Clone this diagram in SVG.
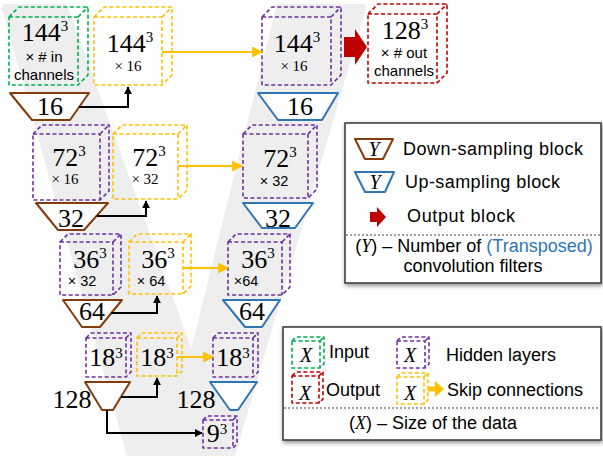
<svg xmlns="http://www.w3.org/2000/svg" width="603" height="461" viewBox="0 0 603 461">
<defs>
<style>
.cube{fill:none;stroke-width:1.6;stroke-dasharray:4 2.5;stroke-linejoin:round}
.g{stroke:#00b050}.y{stroke:#ffc000}.p{stroke:#7030a0}.r{stroke:#c00000}
.down{fill:#fff;stroke:#843c0c;stroke-width:2;stroke-linejoin:round}
.up{fill:#fff;stroke:#2e75b6;stroke-width:2;stroke-linejoin:round}
.num{font-family:"Liberation Serif",serif;font-size:26px;fill:#000;text-anchor:middle}
.sup{font-size:15px}
.mul{font-family:"Liberation Serif",serif;font-size:15px;fill:#000;text-anchor:middle}
.muls{font-family:"Liberation Sans",sans-serif;font-size:14.5px;fill:#000;text-anchor:middle}
.lbl{font-family:"Liberation Sans",sans-serif;font-size:15px;fill:#000;text-anchor:middle}
.leg{font-family:"Liberation Sans",sans-serif;font-size:18px;fill:#000}
.it{font-family:"Liberation Serif",serif;font-style:italic}
.blk{fill:none;stroke:#000;stroke-width:2}
.yel{fill:none;stroke:#ffc000;stroke-width:2}
.box{fill:#fff;stroke:#404040;stroke-width:1.6}
.sep{stroke:#404040;stroke-width:1;stroke-dasharray:2 2}
</style>
<marker id="ab" viewBox="0 0 10 10" refX="9" refY="5" markerWidth="8" markerHeight="8" markerUnits="userSpaceOnUse" orient="auto"><path d="M0,0 L10,5 L0,10 Z" fill="#000"/></marker>
<marker id="ay" viewBox="0 0 10 10" refX="9" refY="5" markerWidth="11" markerHeight="11" markerUnits="userSpaceOnUse" orient="auto"><path d="M0,0 L10,5 L0,10 Z" fill="#ffc000"/></marker>
<filter id="sh" x="-10%" y="-15%" width="125%" height="140%"><feDropShadow dx="1" dy="2" stdDeviation="2" flood-color="#000" flood-opacity="0.45"/></filter>
</defs>

<g id="background-v">
<polygon points="6,8 64,8 192,362 280,8 362,8 232,452 130,452" fill="#efeeee" stroke="#efeeee" stroke-width="8" stroke-linejoin="round"/>
</g>

<g id="input-144">
<path class="cube g" d="M9,17 L19,7 L88,7 L88,75 L78,85 L9,85 Z M9,17 H78 V85 M78,17 L88,7"/>
<text class="num" x="45" y="41">144<tspan class="sup" dy="-10">3</tspan></text>
<text class="lbl" x="44" y="62">× # in</text>
<text class="lbl" x="44" y="80">channels</text>
</g>

<g id="skip-144">
<path class="cube y" d="M94,17 L104,7 L172,7 L172,75 L162,85 L94,85 Z M94,17 H162 V85 M162,17 L172,7"/>
<text class="num" x="130" y="52">144<tspan class="sup" dy="-10">3</tspan></text>
<text class="mul" x="128" y="71">× 16</text>
</g>

<g id="up-144">
<path class="cube p" d="M262,17 L272,7 L341,7 L341,75 L331,85 L262,85 Z M262,17 H331 V85 M331,17 L341,7"/>
<text class="num" x="297" y="52">144<tspan class="sup" dy="-10">3</tspan></text>
<text class="mul" x="294" y="71">× 16</text>
</g>

<g id="output-128">
<path class="cube r" d="M368,14 L378,4 L447,4 L447,73 L437,83 L368,83 Z M368,14 H437 V83 M437,14 L447,4"/>
<text class="num" x="405" y="39">128<tspan class="sup" dy="-10">3</tspan></text>
<text class="lbl" x="404" y="58">× # out</text>
<text class="lbl" x="404" y="76">channels</text>
</g>

<g id="output-block">
<polygon points="344,37 355,37 355,29 367,47 355,65 355,57 344,57" fill="#c00000"/>
</g>

<g id="down-16">
<polygon class="down" points="10,93 89,93 70,120 32,120"/>
<text class="num" x="50" y="115">16</text>
</g>

<g id="up-16">
<polygon class="up" points="258,93 338,93 322,120 278,120"/>
<text class="num" x="300" y="115">16</text>
</g>

<g id="hidden-72">
<path class="cube p" d="M33,134 L42,125 L109,125 L109,191 L100,200 L33,200 Z M33,134 H100 V200 M100,134 L109,125"/>
<text class="num" x="69" y="166">72<tspan class="sup" dy="-10">3</tspan></text>
<text class="mul" x="65" y="184">× 16</text>
</g>

<g id="skip-72">
<path class="cube y" d="M113,134 L122,125 L187,125 L187,190 L178,199 L113,199 Z M113,134 H178 V199 M178,134 L187,125"/>
<text class="num" x="149" y="166">72<tspan class="sup" dy="-10">3</tspan></text>
<text class="mul" x="145" y="184">× 32</text>
</g>

<g id="up-72">
<path class="cube p" d="M243,134 L252,125 L317,125 L317,189 L308,198 L243,198 Z M243,134 H308 V198 M308,134 L317,125"/>
<text class="num" x="280" y="167">72<tspan class="sup" dy="-10">3</tspan></text>
<text class="muls" x="274" y="186">× 32</text>
</g>

<g id="down-32">
<polygon class="down" points="36,203 108,203 84,230 58,230"/>
<text class="num" x="71" y="227">32</text>
</g>

<g id="up-32">
<polygon class="up" points="243,203 313,203 295,228 262,228"/>
<text class="num" x="278" y="227">32</text>
</g>

<g id="hidden-36">
<path class="cube p" d="M60,242 L68,234 L121,234 L121,287 L113,295 L60,295 Z M60,242 H113 V295 M113,242 L121,234"/>
<text class="num" x="90" y="268">36<tspan class="sup" dy="-10">3</tspan></text>
<text class="muls" x="82" y="286">× 32</text>
</g>

<g id="skip-36">
<path class="cube y" d="M129,242 L137,234 L191,234 L191,286 L183,294 L129,294 Z M129,242 H183 V294 M183,242 L191,234"/>
<text class="num" x="158" y="268">36<tspan class="sup" dy="-10">3</tspan></text>
<text class="muls" x="151" y="286">× 64</text>
</g>

<g id="up-36">
<path class="cube p" d="M228,242 L236,234 L290,234 L290,287 L282,295 L228,295 Z M228,242 H282 V295 M282,242 L290,234"/>
<text class="num" x="258" y="268">36<tspan class="sup" dy="-10">3</tspan></text>
<text class="muls" x="246" y="286">×64</text>
</g>

<g id="down-64">
<polygon class="down" points="63,300 122,300 100,327 82,327"/>
<text class="num" x="92" y="320">64</text>
</g>

<g id="up-64">
<polygon class="up" points="223,300 280,300 262,327 245,327"/>
<text class="num" x="252" y="320">64</text>
</g>

<g id="hidden-18">
<path class="cube p" d="M86,338 L91,333 L131,333 L131,372 L126,377 L86,377 Z M86,338 H126 V377 M126,338 L131,333"/>
<text class="num" x="106" y="366">18<tspan class="sup" dy="-8">3</tspan></text>
</g>

<g id="skip-18">
<path class="cube y" d="M137,338 L142,333 L182,333 L182,371 L177,376 L137,376 Z M137,338 H177 V376 M177,338 L182,333"/>
<text class="num" x="157" y="366">18<tspan class="sup" dy="-8">3</tspan></text>
</g>

<g id="up-18">
<path class="cube p" d="M213,338 L218,333 L258,333 L258,372 L253,377 L213,377 Z M213,338 H253 V377 M253,338 L258,333"/>
<text class="num" x="233" y="366">18<tspan class="sup" dy="-8">3</tspan></text>
</g>

<g id="down-128">
<polygon class="down" points="85,382 130,382 113,410 102,410"/>
<text class="num" x="72" y="408">128</text>
</g>

<g id="up-128">
<polygon class="up" points="210,382 257,382 238,410 230,410"/>
<text class="num" x="196" y="408">128</text>
</g>

<g id="bottleneck-9">
<path class="cube p" d="M203,420 L207,416 L237,416 L237,444 L233,448 L203,448 Z M203,420 H233 V448 M233,420 L237,416"/>
<text class="num" x="217" y="442">9<tspan class="sup" dy="-8">3</tspan></text>
</g>

<g id="connectors">
<path class="blk" d="M79,107 H128 V87" marker-end="url(#ab)"/>
<path class="blk" d="M97,216 H146 V201" marker-end="url(#ab)"/>
<path class="blk" d="M111,313 H157 V296" marker-end="url(#ab)"/>
<path class="blk" d="M121,397 H157 V378" marker-end="url(#ab)"/>
<path class="blk" d="M107,410 V433 H202" marker-end="url(#ab)"/>
<path class="yel" d="M162,52 H262" marker-end="url(#ay)"/>
<path class="yel" d="M178,166 H242" marker-end="url(#ay)"/>
<path class="yel" d="M183,268 H228" marker-end="url(#ay)"/>
<path class="yel" d="M177,357 H213" marker-end="url(#ay)"/>
</g>

<g id="legend-blocks">
<rect class="box" x="345" y="123" width="256" height="160" filter="url(#sh)"/>
<polygon class="down" points="355,139 393,139 383,159 365,159"/>
<text class="it" x="374" y="156" font-size="20" text-anchor="middle">Y</text>
<text class="leg" x="403" y="155" textLength="180" lengthAdjust="spacing">Down-sampling block</text>
<polygon class="up" points="355,172 394,172 385,192 365,192"/>
<text class="it" x="375" y="189" font-size="20" text-anchor="middle">Y</text>
<text class="leg" x="405" y="188" textLength="155" lengthAdjust="spacing">Up-sampling block</text>
<polygon points="370,212 377,212 377,207 386,217 377,227 377,222 370,222" fill="#c00000"/>
<text class="leg" x="407" y="222" textLength="108" lengthAdjust="spacing">Output block</text>
<line class="sep" x1="346" y1="235" x2="600" y2="235"/>
<text class="leg" x="474" y="252" font-size="16" text-anchor="middle">(<tspan class="it">Y</tspan>) – Number of <tspan fill="#2e75b6">(Transposed)</tspan></text>
<text class="leg" x="473" y="272" font-size="16" text-anchor="middle">convolution filters</text>
</g>

<g id="legend-data">
<rect class="box" x="283" y="327" width="318" height="113" filter="url(#sh)"/>
<path class="cube g" d="M292,341 L296,337 L324,337 L324,364 L320,368 L292,368 Z M292,341 H320 V368 M320,341 L324,337" stroke-width="1.3"/>
<text class="it" x="306" y="362" font-size="20" text-anchor="middle">X</text>
<text class="leg" x="329" y="358">Input</text>
<path class="cube p" d="M397,341 L401,337 L429,337 L429,364 L425,368 L397,368 Z M397,341 H425 V368 M425,341 L429,337" stroke-width="1.3"/>
<text class="it" x="410" y="362" font-size="20" text-anchor="middle">X</text>
<text class="leg" x="446" y="361">Hidden layers</text>
<path class="cube r" d="M292,376 L296,372 L323,372 L323,399 L319,403 L292,403 Z M292,376 H319 V403 M319,376 L323,372" stroke-width="1.3"/>
<text class="it" x="305" y="400" font-size="20" text-anchor="middle">X</text>
<text class="leg" x="326" y="396">Output</text>
<path class="cube y" d="M397,377 L401,373 L428,373 L428,400 L424,404 L397,404 Z M397,377 H424 V404 M424,377 L428,373" stroke-width="1.3"/>
<text class="it" x="410" y="400" font-size="20" text-anchor="middle">X</text>
<path d="M428,389 H436" stroke="#ffc000" stroke-width="5"/>
<polygon points="435,381 444,389 435,397" fill="#ffc000"/>
<text class="leg" x="447" y="396">Skip connections</text>
<line class="sep" x1="284" y1="408" x2="600" y2="408"/>
<text class="leg" x="433" y="429" text-anchor="middle">(<tspan class="it">X</tspan>) – Size of the data</text>
</g>
</svg>
